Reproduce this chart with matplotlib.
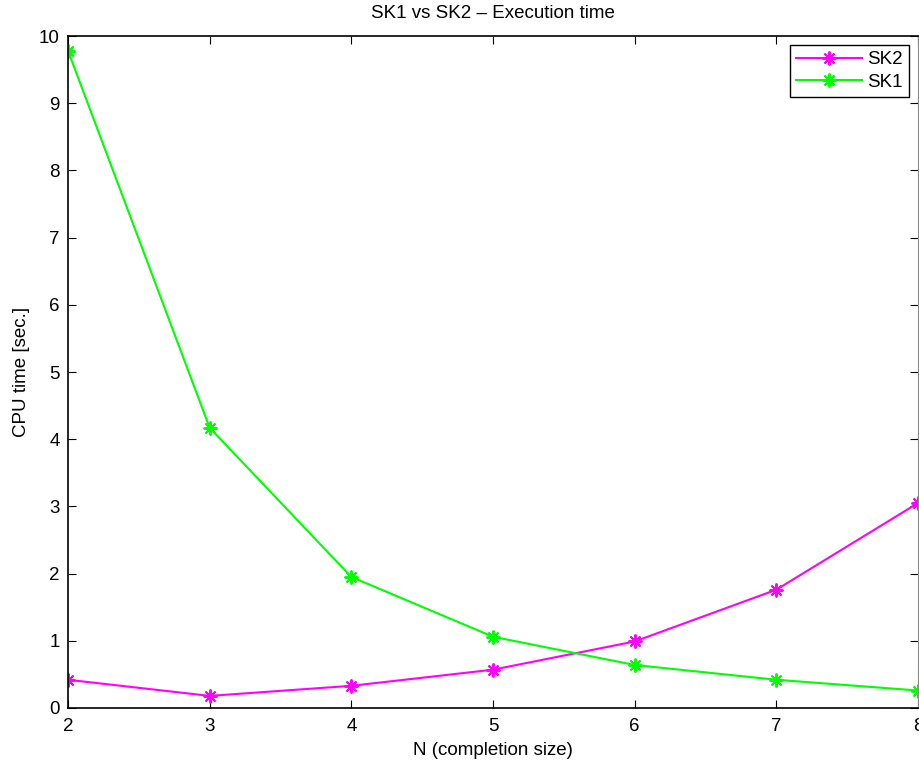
import matplotlib
matplotlib.use("Agg")
import matplotlib.pyplot as plt

plt.rcParams['font.family'] = ['Liberation Sans', 'DejaVu Sans']

# completion size N and execution time in seconds
n_values = [2, 3, 4, 5, 6, 7, 8]
sk2_time = [0.42, 0.18, 0.33, 0.57, 0.99, 1.76, 3.05]
sk1_time = [9.78, 4.17, 1.95, 1.06, 0.64, 0.42, 0.26]

fig = plt.figure(figsize=(9.19, 7.63), dpi=100)
ax = fig.add_axes([0.074, 0.0721, 0.9249, 0.8807])

# eight-armed asterisk, like the matlab '*' marker
star = (8, 2, 0)
ax.plot(n_values, sk2_time, color='#ff00ff', marker=star, markersize=10,
        markeredgewidth=1.4, linewidth=1.5, label='SK2')
ax.plot(n_values, sk1_time, color='#00ff00', marker=star, markersize=10,
        markeredgewidth=1.4, linewidth=1.5, label='SK1')

ax.set_xlim(2, 8)
ax.set_ylim(0, 10)
ax.set_xticks(range(2, 9))
ax.set_yticks(range(0, 11))

# inward ticks on all four sides
ax.tick_params(direction='in', top=True, right=True, length=6, width=0.8,
               labelsize=13.5, pad=7)
ax.tick_params(axis='y', pad=6)
for side in ['left', 'bottom', 'top']:
    ax.spines[side].set_linewidth(1.2)
ax.spines['right'].set_color('#888888')

ax.set_xlabel('N (completion size)', fontsize=13.5, labelpad=5)
ax.set_ylabel('CPU time [sec.]', fontsize=13.5, labelpad=6)
ax.set_title('SK1 vs SK2 \u2013 Execution time', fontsize=13.5, pad=13)

leg = ax.legend(loc='upper right', fontsize=13.5, fancybox=False, framealpha=1,
                edgecolor='black', handlelength=3.5, borderaxespad=0.5,
                borderpad=0.3, labelspacing=0.3, handletextpad=0.3)
leg.get_frame().set_linewidth(1.0)

fig.savefig('out.png', dpi=100)
